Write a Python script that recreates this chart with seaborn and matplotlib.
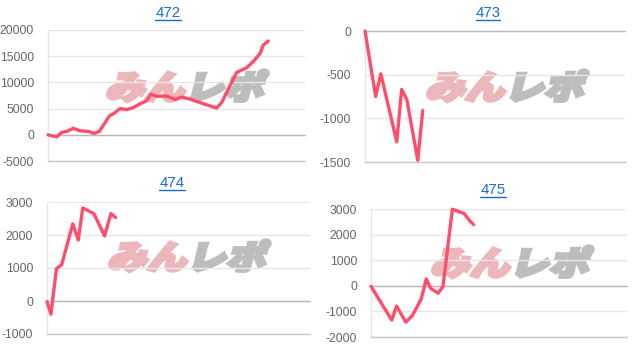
import matplotlib
matplotlib.use("Agg")
import matplotlib.pyplot as plt
import seaborn as sns
import pandas as pd
from matplotlib.textpath import TextPath
from matplotlib.font_manager import FontProperties
from matplotlib.patches import PathPatch
from matplotlib.transforms import Affine2D, IdentityTransform
from matplotlib.lines import Line2D

# ---- data (x = position along the day's axis, 0..100; y = 差枚) ----
titles = ["472", "473", "474", "475"]

x472 = [0, 3.4, 5.3, 7.3, 9.8, 12.5, 15.7, 17.9, 20, 23.9, 25.7, 28, 30.6, 33.2, 35.8,
        38.4, 40.1, 42.3, 46.2, 49.4, 52, 55.3, 59.1, 65.6, 67.6, 73.4, 77.3, 79.9,
        82.5, 83.8, 85.7]
y472 = [0, -400, 450, 650, 1250, 750, 650, 250, 650, 3600, 4100, 5000, 4800, 5200, 5900,
        6500, 7750, 7350, 7400, 6750, 7200, 6800, 6150, 5100, 6200, 11900, 12800, 14000,
        15500, 17150, 17900]

x473 = [0, 4.1, 6.1, 12.2, 14.1, 16.1, 20.3, 22.2]
y473 = [0, -750, -490, -1270, -670, -785, -1480, -910]

x474 = [0, 1.5, 3.6, 5.6, 9.8, 11.9, 13.6, 17.8, 21.9, 24.3, 26.1]
y474 = [-20, -400, 980, 1100, 2340, 1850, 2820, 2650, 1970, 2650, 2530]

x475 = [0, 8.1, 10.0, 13.6, 16.1, 19.6, 21.6, 23.3, 26.2, 28.1, 31.8, 36.3, 38.4, 40.1]
y475 = [-20, -1340, -790, -1420, -1170, -520, 270, -100, -290, -30, 2990, 2830, 2560, 2390]

yticks472 = [-5000, 0, 5000, 10000, 15000, 20000]
yticks473 = [-1500, -1000, -500, 0]
yticks474 = [-1000, 0, 1000, 2000, 3000]
yticks475 = [-2000, -1000, 0, 1000, 2000, 3000]

series = [(x472, y472, yticks472), (x473, y473, yticks473),
          (x474, y474, yticks474), (x475, y475, yticks475)]

# ---- style ----
sns.set_style("white")
plt.rcParams["font.family"] = ["Liberation Sans", "DejaVu Sans"]

W, H = 635, 346
fig = plt.figure(figsize=(W / 100, H / 100), dpi=100)
fig.patch.set_facecolor("white")

# axes boxes in pixels: left, right, top, bottom
boxes = [(48, 305, 30, 161), (365, 625, 31, 162), (47, 310, 202, 334), (371, 627, 209, 337)]
title_pos = [(168, 13), (488, 13), (172, 183), (493, 190)]
logo_pos = [(105, 99), (425, 99), (107, 269), (430, 275)]

LINE = "#ff4d6b"
GRID = "#e6e6e6"
ZERO = "#b8b8b8"
TICKC = "#666666"

fp = FontProperties(family="Noto Sans CJK JP", weight="black")

for i, ((xs, ys, yt), (l, r, t, b)) in enumerate(zip(series, boxes)):
    ax = fig.add_axes([l / W, (H - b) / H, (r - l) / W, (b - t) / H])
    ax.set_facecolor("none")
    df = pd.DataFrame({"x": xs, "y": ys})
    sns.lineplot(data=df, x="x", y="y", ax=ax, color=LINE, linewidth=2.4,
                 zorder=5, clip_on=False)
    ax.set_xlim(0, 100)
    ax.set_ylim(yt[0], yt[-1])
    ax.set_yticks(yt)
    ax.set_yticklabels([str(v) for v in yt])
    ax.set_xticks([])
    ax.set_xlabel("")
    ax.set_ylabel("")
    ax.grid(axis="y", color=GRID, linewidth=1)
    ax.axhline(0, color=ZERO, linewidth=1, zorder=2, clip_on=False)
    for s in ["top", "right"]:
        ax.spines[s].set_visible(False)
    ax.spines["left"].set_color(GRID)
    ax.spines["left"].set_linewidth(1)
    ax.spines["bottom"].set_color("#c8c8c8")
    ax.spines["bottom"].set_linewidth(1)
    ax.tick_params(axis="y", length=7, width=1, color=GRID, pad=3,
                   labelsize=8.8, labelcolor=TICKC)
    for tk, v in zip(ax.yaxis.get_major_ticks(), yt):
        if v == 0:
            tk.tick1line.set_color(ZERO)

    # title
    tx, ty = title_pos[i]
    fig.text(tx / W, 1 - ty / H, titles[i], ha="center", va="center",
             fontsize=10.8, color="#1a6dcc")

    # watermark logo
    lx, ly = logo_pos[i]
    S = 33
    tr = (Affine2D().scale(1.2, 1.0).skew_deg(14, 0)
          .translate(lx, H - ly))
    p1 = TextPath((0, 0), "みん", size=S, prop=fp)
    p2 = TextPath((2 * S, 0), "レポ", size=S, prop=fp)
    fig.add_artist(PathPatch(p1, facecolor="#ebb7bb", edgecolor="#ebb7bb", linewidth=2.6,
                             transform=tr + IdentityTransform(), zorder=-1))
    fig.add_artist(PathPatch(p2, facecolor="#bdbdbd", edgecolor="#bdbdbd", linewidth=2.6,
                             transform=tr + IdentityTransform(), zorder=-1))

# underline titles
fig.canvas.draw()
for t in fig.texts:
    bb = t.get_window_extent()
    yline = bb.y0 + 0.5
    fig.add_artist(Line2D([bb.x0 / W, bb.x1 / W], [yline / H, yline / H],
                          transform=fig.transFigure, color="#1a6dcc", linewidth=1))

fig.savefig("out.png", dpi=100, facecolor="white")
